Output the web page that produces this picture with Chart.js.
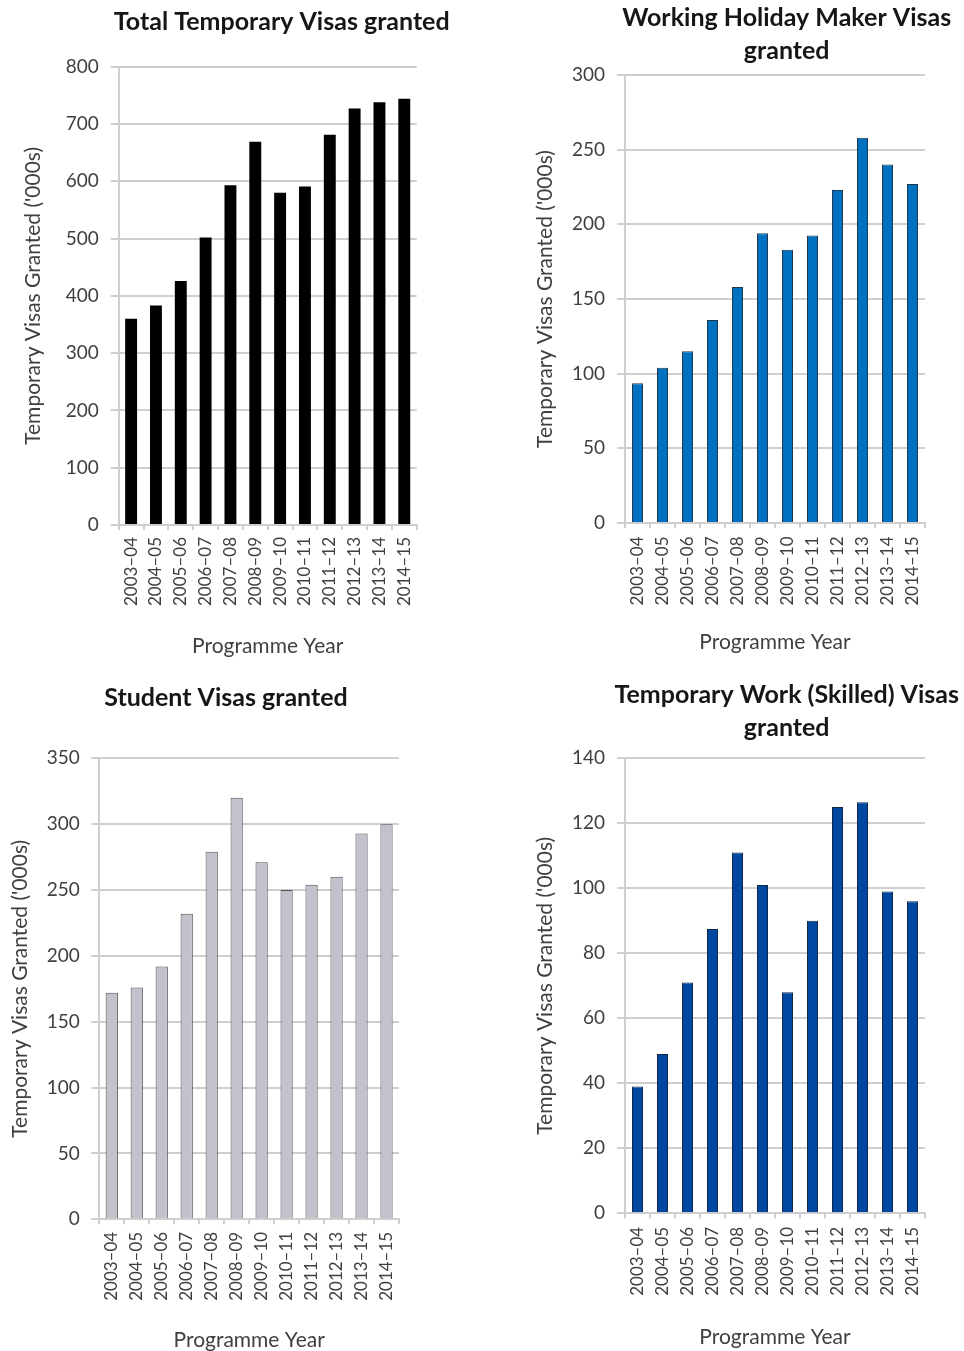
<!DOCTYPE html>
<html>
<head>
<meta charset="utf-8">
<title>Temporary visas granted, 2003–04 to 2014–15</title>
<script src="https://cdn.jsdelivr.net/npm/chart.js@4/dist/chart.umd.min.js"></script>
<style>
  html, body { margin: 0; padding: 0; background: #ffffff; }
  #page { position: relative; width: 964px; height: 1351px; overflow: hidden; }
  .panel { position: absolute; }
  .panel canvas { display: block; }
</style>
</head>
<body>
<div id="page">
  <div class="panel" style="left:0;top:0;"><canvas id="totalChart" width="482" height="675"></canvas></div>
  <div class="panel" style="left:482px;top:0;"><canvas id="whmChart" width="482" height="675"></canvas></div>
  <div class="panel" style="left:0;top:675px;"><canvas id="studentChart" width="482" height="676"></canvas></div>
  <div class="panel" style="left:482px;top:675px;"><canvas id="skilledChart" width="482" height="676"></canvas></div>
</div>
<script>
// Programme years (category axis) and visas granted per year, in thousands
const programmeYears = ['2003–04', '2004–05', '2005–06', '2006–07', '2007–08', '2008–09',
                        '2009–10', '2010–11', '2011–12', '2012–13', '2013–14', '2014–15'];
const totalTemporary = [360, 383, 426, 502, 593, 669, 580, 591, 681, 727, 738, 744];
const workingHoliday = [93.5, 104, 115, 136, 158, 194, 183, 192.5, 223, 258, 240, 227];
const studentVisas   = [172, 176, 192, 232, 279, 320, 271, 250, 254, 260, 293, 300];
const skilledWork    = [39, 49, 71, 87.5, 111, 101, 68, 90, 125, 126.5, 99, 96];

const FONT = 'Lato, "Open Sans", "DejaVu Sans", sans-serif';
const GRID = '#cfcfcf';
const TICK_TEXT = '#3f3f3f';
const AXIS_TEXT = '#404040';
const TITLE_TEXT = '#161616';

// Moves the chart title sideways so it sits centred over the whole panel
const titleShift = {
  id: 'titleShift',
  afterLayout(chart, args, opts) {
    const t = chart.titleBlock;
    if (t && opts && opts.dx) { t.left += opts.dx; t.right += opts.dx; }
  }
};

function buildChart(canvasId, s) {
  return new Chart(document.getElementById(canvasId), {
    type: 'bar',
    data: {
      labels: programmeYears,
      datasets: [{
        data: s.values,
        backgroundColor: s.fill,
        borderColor: s.edge,
        borderWidth: s.edgeWidth,
        borderSkipped: 'bottom',
        barPercentage: s.barPct,
        categoryPercentage: 1
      }]
    },
    options: {
      responsive: false,
      animation: false,
      devicePixelRatio: 1,
      layout: { padding: { left: 0, top: 0, right: s.padRight, bottom: 0 } },
      plugins: {
        legend: { display: false },
        tooltip: { enabled: false },
        title: {
          display: true,
          text: s.title,
          color: TITLE_TEXT,
          font: { family: FONT, size: 25, weight: 'bold', lineHeight: 1.32 },
          padding: { top: s.titleTop, bottom: s.titleBottom }
        },
        titleShift: { dx: s.titleDx }
      },
      scales: {
        x: {
          grid: { offset: true, drawOnChartArea: false, drawTicks: true, tickLength: 5, color: GRID, lineWidth: 2 },
          border: { color: GRID, width: 2 },
          ticks: {
            autoSkip: false, minRotation: 90, maxRotation: 90,
            padding: s.xLabelGap, color: TICK_TEXT,
            font: { family: FONT, size: 17 }
          },
          title: {
            display: true, text: 'Programme Year', color: AXIS_TEXT,
            font: { family: FONT, size: 21 },
            padding: { top: 0, bottom: s.xTitleBottom }
          },
          afterFit(scale) { scale.height = s.xHeight; }
        },
        y: {
          min: 0,
          max: s.max,
          grid: { color: GRID, lineWidth: 2, tickLength: 8 },
          border: { color: GRID, width: 2 },
          ticks: {
            stepSize: s.step, padding: s.yLabelGap, color: TICK_TEXT,
            font: { family: FONT, size: 19 }
          },
          title: {
            display: true, text: "Temporary Visas Granted ('000s)", color: AXIS_TEXT,
            font: { family: FONT, size: 21 },
            padding: { top: s.yTitleLeft, bottom: 0 }
          },
          afterFit(scale) { scale.width = s.yWidth; }
        }
      }
    },
    plugins: [titleShift]
  });
}

buildChart('totalChart', {
  title: 'Total Temporary Visas granted',
  values: totalTemporary, max: 800, step: 100,
  fill: '#000000', edge: '#000000', edgeWidth: 0, barPct: 0.48,
  padRight: 65.3, yWidth: 118.7, yLabelGap: 12, yTitleLeft: 20.7,
  titleTop: 5.2, titleBottom: 28.5, titleDx: 73.4,
  xHeight: 150, xLabelGap: 7, xTitleBottom: 15.7
});

buildChart('whmChart', {
  title: ['Working Holiday Maker Visas', 'granted'],
  values: workingHoliday, max: 300, step: 50,
  fill: '#0071c1', edge: '#22364c', edgeWidth: 1, barPct: 0.44,
  padRight: 39, yWidth: 143, yLabelGap: 12, yTitleLeft: 50.4,
  titleTop: 1.8, titleBottom: 7.2, titleDx: 83.2,
  xHeight: 152, xLabelGap: 8.5, xTitleBottom: 19.7
});

buildChart('studentChart', {
  title: 'Student Visas granted',
  values: studentVisas, max: 350, step: 50,
  fill: '#c2c2cd', edge: '#4f4f55', edgeWidth: 1, barPct: 0.49,
  padRight: 83, yWidth: 99.3, yLabelGap: 11.5, yTitleLeft: 7.4,
  titleTop: 6.8, titleBottom: 43.5, titleDx: 26.5,
  xHeight: 131.7, xLabelGap: 7.5, xTitleBottom: -1.5
});

buildChart('skilledChart', {
  title: ['Temporary Work (Skilled) Visas', 'granted'],
  values: skilledWork, max: 140, step: 20,
  fill: '#0047a0', edge: '#13284a', edgeWidth: 1, barPct: 0.44,
  padRight: 39, yWidth: 143, yLabelGap: 12, yTitleLeft: 50.4,
  titleTop: 3.5, titleBottom: 13.8, titleDx: 83.2,
  xHeight: 137.7, xLabelGap: 8.5, xTitleBottom: 1.1
});
</script>
</body>
</html>
